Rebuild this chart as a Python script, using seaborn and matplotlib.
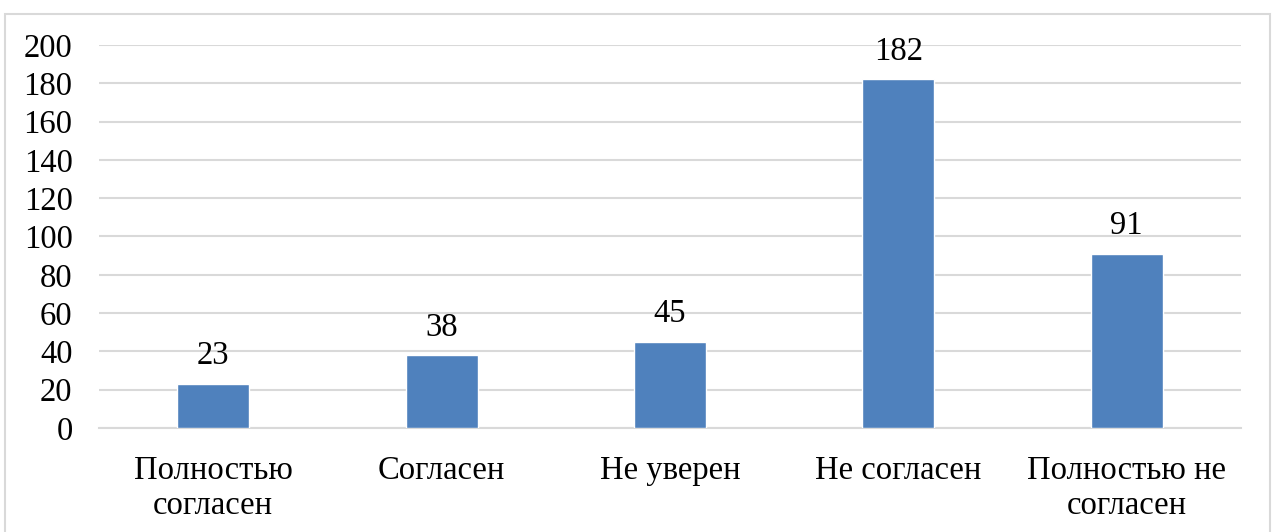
import matplotlib.pyplot as plt
import seaborn as sns
import pandas as pd
from matplotlib.patches import Rectangle

# данные с картинки
categories = ["Полностью\nсогласен", "Согласен", "Не уверен", "Не согласен", "Полностью не\nсогласен"]
values = [23, 38, 45, 182, 91]
y_ticks = [0, 20, 40, 60, 80, 100, 120, 140, 160, 180, 200]

df = pd.DataFrame({"cat": categories, "val": values})

sns.set_style("white")
plt.rcParams["font.family"] = ["Liberation Serif", "DejaVu Serif"]
plt.rcParams["text.color"] = "black"
plt.rcParams["xtick.color"] = "black"
plt.rcParams["ytick.color"] = "black"

fig = plt.figure(figsize=(12.75, 5.32), dpi=100)
ax = fig.add_axes([0.0776, 0.1955, 0.8957, 0.72])

sns.barplot(data=df, x="cat", y="val", color="#4f81bd", width=0.315, saturation=1, ax=ax, zorder=3)

ax.set_ylim(0, 200)
ax.set_yticks(y_ticks)
ax.set_xlim(-0.5, 4.5)
ax.grid(axis="y", color="#d9d9d9", linewidth=1.5, zorder=0)
for s in ["top", "right", "left"]:
    ax.spines[s].set_visible(False)
ax.spines["bottom"].set_color("#d9d9d9")
ax.spines["bottom"].set_linewidth(1.5)
ax.tick_params(axis="y", length=0, pad=19, labelsize=23.5, labelcolor="black")
ax.tick_params(axis="x", length=0, pad=20, labelsize=23.5, labelcolor="black")
for t in ax.get_xticklabels():
    t.set_linespacing(1.2)
ax.set_xlabel("")
ax.set_ylabel("")

ax.bar_label(ax.containers[0], labels=[str(v) for v in values], padding=9, fontsize=23.5, color="black")

# рамка вокруг диаграммы
fig.patches.append(Rectangle((5 / 1275, -0.05), 1265 / 1275, 1.05 - 14 / 532,
                             transform=fig.transFigure, fill=False,
                             edgecolor="#d9d9d9", linewidth=1.5))

fig.savefig("out.png", dpi=100)
